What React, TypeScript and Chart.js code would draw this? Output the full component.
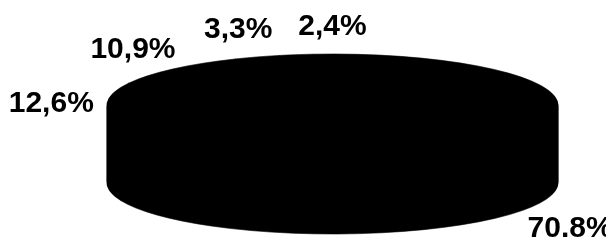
import React, { useEffect, useRef } from 'react';
import { Chart, registerables } from 'chart.js';

Chart.register(...registerables);

// ---- data ----
const categories = ['Slice 1', 'Slice 2', 'Slice 3', 'Slice 4', 'Slice 5'];
const values = [70.8, 12.6, 10.9, 3.3, 2.4];
const valueLabels = ['70.8%', '12,6%', '10,9%', '3,3%', '2,4%'];

const TILT = 51 / 225.5; // vertical squash of the pie
const DEPTH = 78; // thickness of the 3D pie in px

const pie3dPlugin = {
  id: 'pie3d',
  beforeDatasetsDraw(chart: any, _args: any, opts: any) {
    const meta = chart.getDatasetMeta(0);
    const first = meta.data[0];
    const ctx = chart.ctx;
    ctx.save();
    if (!first) return;
    const cx = first.x;
    const cy = first.y;
    const k = opts.tilt;
    ctx.translate(cx, cy);
    ctx.scale(1, k);
    ctx.translate(-cx, -cy);
    for (let d = opts.depth; d >= 1; d--) {
      ctx.save();
      ctx.translate(0, d / k);
      meta.data.forEach((el: any) => el.draw(ctx));
      ctx.restore();
    }
  },
  afterDatasetsDraw(chart: any) {
    chart.ctx.restore();
  },
};

const labelPlugin = {
  id: 'pieLabels3d',
  afterDraw(chart: any, _args: any, opts: any) {
    const meta = chart.getDatasetMeta(0);
    const ctx = chart.ctx;
    ctx.save();
    ctx.font = opts.font;
    ctx.fillStyle = opts.color;
    ctx.textAlign = 'center';
    ctx.textBaseline = 'alphabetic';
    const boxes = meta.data.map((el: any, i: number) => {
      const mid = (el.startAngle + el.endAngle) / 2;
      const c = Math.cos(mid);
      const s = Math.sin(mid);
      const rx = el.outerRadius + opts.padX;
      const ry = el.outerRadius * opts.tilt + opts.padY;
      const text = opts.texts[i];
      return {
        x: el.x + c * rx,
        y: el.y + s * ry + (s > 0 ? opts.depth : 0),
        w: ctx.measureText(text).width,
        text,
      };
    });
    for (let i = 0; i < boxes.length; i++) {
      for (let j = i + 1; j < boxes.length; j++) {
        const a = boxes[i];
        const b = boxes[j];
        const need = (a.w + b.w) / 2 + opts.gap;
        if (Math.abs(a.y - b.y) < opts.capHeight && Math.abs(b.x - a.x) < need) {
          const dir = Math.sign(b.x - a.x) || 1;
          b.x = a.x + dir * need;
        }
      }
    }
    boxes.forEach((b: any) => {
      ctx.fillText(b.text, b.x, b.y + opts.capHeight / 2 + opts.dy);
    });
    ctx.restore();
  },
};

export default function App() {
  const ref = useRef<HTMLCanvasElement | null>(null);

  useEffect(() => {
    if (!ref.current) return;
    const chart = new Chart(ref.current, {
      type: 'pie',
      data: {
        labels: categories,
        datasets: [
          {
            data: values,
            backgroundColor: '#000000',
            borderColor: '#000000',
            borderWidth: 1,
            clip: false,
          } as any,
        ],
      },
      options: {
        responsive: false,
        animation: false,
        devicePixelRatio: 1,
        events: [],
        rotation: -5,
        radius: 225.5,
        layout: { padding: { left: 59, right: 0, top: 0, bottom: 30 } },
        plugins: {
          legend: { display: false },
          tooltip: { enabled: false },
          pie3d: { tilt: TILT, depth: DEPTH },
          pieLabels3d: {
            texts: valueLabels,
            font: 'bold 30px "Liberation Sans", Arial, sans-serif',
            color: '#000000',
            tilt: TILT,
            depth: DEPTH,
            padX: 56,
            padY: 31,
            gap: 26,
            capHeight: 21,
            dy: 0,
          },
        } as any,
      },
      plugins: [pie3dPlugin, labelPlugin],
    });
    return () => chart.destroy();
  }, []);

  return (
    <div style={{ position: 'fixed', left: 0, top: 0, width: 606, height: 240, background: '#ffffff' }}>
      <canvas ref={ref} width={606} height={240} style={{ display: 'block' }} />
    </div>
  );
}
